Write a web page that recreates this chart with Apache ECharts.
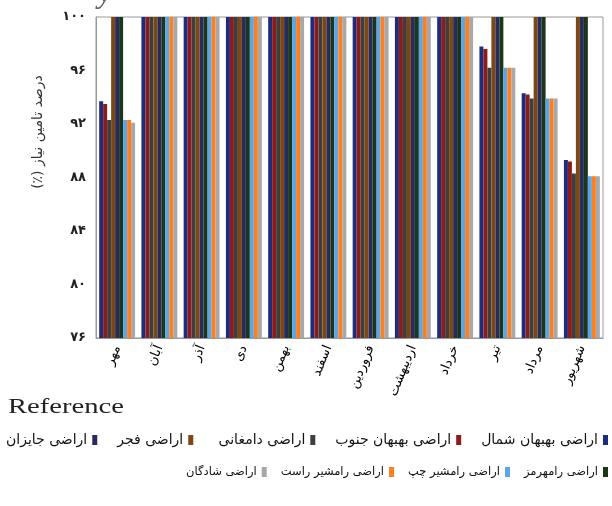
<!DOCTYPE html>
<html><head><meta charset="utf-8">
<script src="https://cdn.jsdelivr.net/npm/echarts@6/dist/echarts.min.js"></script>
<style>html,body{margin:0;padding:0;background:#fff}#c{width:612px;height:506px}</style>
</head><body><div id="c"></div>
<script>
const categories = ['مهر','آبان','آذر','دی','بهمن','اسفند','فروردین','اردیبهشت','خرداد','تیر','مرداد','شهریور'];
const yTicks = [76, 80, 84, 88, 92, 96, 100];
const seriesNames = ['اراضی بهبهان شمال','اراضی بهبهان جنوب','اراضی دامغانی','اراضی فجر','اراضی جایزان','اراضی رامهرمز','اراضی رامشیر چپ','اراضی رامشیر راست','اراضی شادگان'];
const behbahanShomal = [93.7,100,100,100,100,100,100,100,100,97.8,94.3,89.3];
const behbahanJonub  = [93.5,100,100,100,100,100,100,100,100,97.6,94.2,89.2];
const damghani       = [92.3,100,100,100,100,100,100,100,100,96.2,93.9,88.3];
const fajr           = [100,100,100,100,100,100,100,100,100,100,100,100];
const jayzan         = [100,100,100,100,100,100,100,100,100,100,100,100];
const ramhormoz      = [100,100,100,100,100,100,100,100,100,100,100,100];
const ramshirChap    = [92.3,100,100,100,100,100,100,100,100,96.2,93.9,88.1];
const ramshirRast    = [92.3,100,100,100,100,100,100,100,100,96.2,93.9,88.1];
const shadegan       = [92.1,100,100,100,100,100,100,100,100,96.2,93.9,88.1];
const seriesValues = [behbahanShomal, behbahanJonub, damghani, fajr, jayzan, ramhormoz, ramshirChap, ramshirRast, shadegan];
const colors = ['#1e2c7c','#8c1b1b','#3e3e3e','#7d4714','#272c5c','#1c361c','#5aa6e6','#ff7f1e','#a8a8a8'];
const yAxisTitle = 'درصد تامین نیاز (٪)';

const faDigits = s => String(s).replace(/\d/g, d => '۰۱۲۳۴۵۶۷۸۹'[d]);
const FONT = 'DejaVu Sans';
const RLM = '\u200F';

const legendBase = (data, pos, fontSize, gap) => Object.assign({
  data, padding: 0, align: 'right', itemWidth: 5, itemHeight: 10, itemGap: gap, icon: 'rect',
  textStyle: { fontFamily: FONT, fontSize, color: '#111' }
}, pos);

const chart = echarts.init(document.getElementById('c'));
chart.setOption({
  animation: false,
  color: colors,
  grid: { left: 96, right: 9, top: 17, bottom: 168, show: true, borderColor: '#999', borderWidth: 1 },
  graphic: [
    { type: 'text', x: 8, y: 396, scaleX: 1.3, style: { text: 'Reference', font: '22px "Liberation Serif"', fill: '#222' } },
    { type: 'text', x: 98, y: -22, style: { text: 'y', font: 'italic 32px "Liberation Serif"', fill: '#666' } },
    { type: 'text', x: 38, y: 132, rotation: Math.PI / 2,
      style: { text: RLM + yAxisTitle + RLM, font: '14px "DejaVu Sans"', fill: '#333', align: 'center', verticalAlign: 'middle' } }
  ],
  legend: [
    legendBase(seriesNames.slice(0,3).reverse(), { right: 4, top: 433 }, 14, 20),
    legendBase(seriesNames.slice(3,5).reverse(), { left: 6, top: 433 }, 14, 20),
    legendBase(seriesNames.slice(5).reverse(), { right: 4, top: 466 }, 11.5, 14)
  ],
  xAxis: {
    type: 'category', data: categories,
    axisLine: { show: true, lineStyle: { color: '#999' } },
    axisTick: { show: false },
    axisLabel: { rotate: 68, fontFamily: FONT, fontSize: 13, color: '#000', margin: 8, interval: 0 }
  },
  yAxis: {
    type: 'value', min: 76, max: 100, interval: 4,
    axisLine: { show: true, lineStyle: { color: '#999' } },
    axisTick: { show: false },
    splitLine: { show: false },
    axisLabel: { fontFamily: FONT, fontSize: 13, fontWeight: 'bold', color: '#222', margin: 10,
      formatter: v => yTicks.includes(v) ? faDigits(v) : '' }
  },
  series: seriesNames.map((n, i) => ({
    name: n, type: 'bar', data: seriesValues[i], barGap: '0%', barCategoryGap: '15%'
  }))
});
</script></body></html>
